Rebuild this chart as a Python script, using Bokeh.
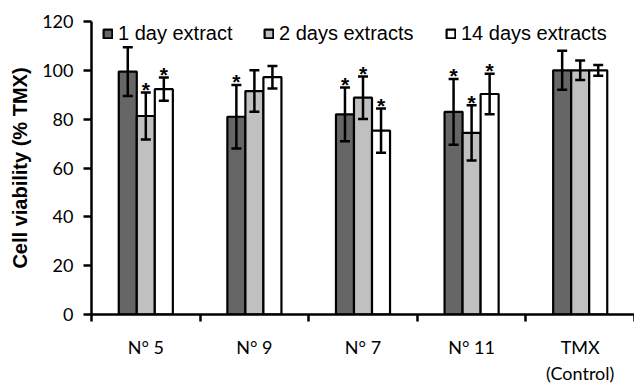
from bokeh.plotting import figure
from bokeh.models import (ColumnDataSource, Whisker, FixedTicker, Legend, LegendItem,
                          TeeHead, Range1d)
from bokeh.core.properties import value
from bokeh.embed import file_html
from bokeh.resources import INLINE

groups = ["N° 5", "N° 9", "N° 7", "N° 11", "TMX\n(Control)"]
series = ["1 day extract", "2 days extracts", "14 days extracts"]
day1 = [99.5, 81.0, 82.0, 83.0, 100.0]
day1_err = [10.0, 13.0, 11.0, 13.5, 8.0]
day2 = [81.3, 91.5, 88.8, 74.4, 100.0]
day2_err = [9.6, 8.5, 8.7, 11.3, 4.0]
day14 = [92.3, 97.2, 75.3, 90.3, 100.0]
day14_err = [4.8, 4.6, 9.1, 8.3, 2.2]
stars1 = [False, True, True, True, False]
stars2 = [True, False, True, True, False]
stars14 = [True, False, True, True, False]
colors = ["#666666", "#c0c0c0", "#ffffff"]
y_ticks = [0, 20, 40, 60, 80, 100, 120]

TICK_FONT = "Lato"
TEXT_FONT = "Liberation Sans"

p = figure(width=634, height=386, output_backend="svg", toolbar_location=None,
           x_range=Range1d(0, 5), y_range=Range1d(0, 120),
           min_border_left=91, min_border_right=0, min_border_top=21, min_border_bottom=68)
p.outline_line_color = None
p.xgrid.visible = False
p.ygrid.visible = False
p.background_fill_color = "white"

width = 0.166
offsets = [-width, 0.0, width]
legend_x = [11, 172, 354]
all_vals = [day1, day2, day14]
all_errs = [day1_err, day2_err, day14_err]
all_stars = [stars1, stars2, stars14]
for k in range(3):
    xs = [i + 0.5 + offsets[k] for i in range(len(groups))]
    vals = all_vals[k]
    errs = all_errs[k]
    src = ColumnDataSource(dict(x=xs, top=vals,
                                upper=[v + e for v, e in zip(vals, errs)],
                                lower=[v - e for v, e in zip(vals, errs)]))
    r = p.vbar(x="x", top="top", width=width, bottom=0, source=src,
               fill_color=colors[k], line_color="black", line_width=2.2)
    w = Whisker(source=src, base="x", upper="upper", lower="lower",
                line_width=2.5, line_color="black", level="glyph",
                upper_head=TeeHead(size=10, line_width=2.5, line_color="black"),
                lower_head=TeeHead(size=10, line_width=2.5, line_color="black"))
    p.add_layout(w)
    sx = [x for x, s in zip(xs, all_stars[k]) if s]
    sy = [v + e for v, e, s in zip(vals, errs, all_stars[k]) if s]
    t = p.text(x=sx, y=sy, text=["*"] * len(sx), text_align="center",
               text_baseline="alphabetic", y_offset=-3,
               text_font=value(TEXT_FONT), text_font_size="21px",
               text_font_style="bold", text_color="#000000")
    t.level = "overlay"
    leg = Legend(items=[LegendItem(label=series[k], renderers=[r])],
                 orientation="horizontal", location=(legend_x[k], 269),
                 margin=0, padding=0, label_standoff=5,
                 glyph_width=11, glyph_height=11,
                 border_line_color=None, background_fill_alpha=0,
                 label_text_font=TEXT_FONT, label_text_font_size="20px", label_height=20,
                 label_text_baseline="middle", label_text_color="black")
    p.add_layout(leg)

# x axis
xa = p.xaxis[0]
xa.ticker = FixedTicker(ticks=[i + 0.5 for i in range(len(groups))],
                        minor_ticks=list(range(len(groups) + 1)))
xa.major_label_overrides = {i + 0.5: g for i, g in enumerate(groups)}
xa.major_tick_out = 0
xa.major_tick_in = 0
xa.minor_tick_out = 7
xa.minor_tick_in = 0
xa.minor_tick_line_width = 2.5
xa.minor_tick_line_color = "black"
xa.axis_line_width = 2.5
xa.axis_line_color = "black"
xa.major_label_standoff = 14
xa.major_label_text_font = TICK_FONT
xa.major_label_text_font_size = "18px"
xa.major_label_text_color = "black"

# y axis
ya = p.yaxis[0]
ya.ticker = FixedTicker(ticks=y_ticks)
ya.major_tick_out = 8
ya.major_tick_in = 0
ya.minor_tick_out = 0
ya.minor_tick_in = 0
ya.major_tick_line_width = 2.5
ya.major_tick_line_color = "black"
ya.axis_line_width = 2.5
ya.axis_line_color = "black"
ya.major_label_standoff = 10
ya.major_label_text_font = TICK_FONT
ya.major_label_text_font_size = "18px"
ya.major_label_text_color = "black"
ya.axis_label = "Cell viability (% TMX)"
ya.axis_label_text_font = TEXT_FONT
ya.axis_label_text_font_style = "bold"
ya.axis_label_text_font_size = "20px"
ya.axis_label_text_color = "black"
ya.axis_label_standoff = 8

open("out.html", "w").write(file_html(p, INLINE))
